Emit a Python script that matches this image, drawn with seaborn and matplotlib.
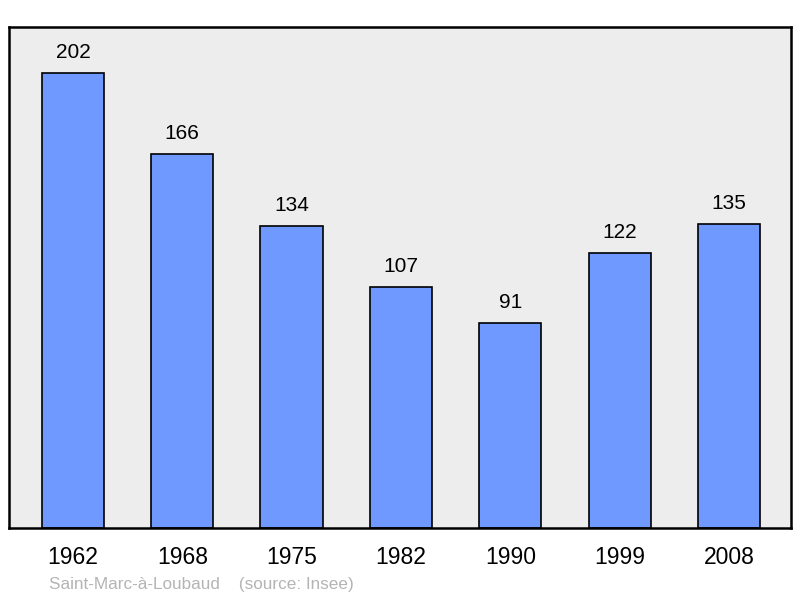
import matplotlib
matplotlib.use("Agg")
import matplotlib.pyplot as plt
import seaborn as sns
import pandas as pd

# Data
years = ["1962", "1968", "1975", "1982", "1990", "1999", "2008"]
population = [202, 166, 134, 107, 91, 122, 135]

df = pd.DataFrame({"year": years, "pop": population})

sns.set_style("white")
plt.rcParams["font.family"] = ["Liberation Sans", "DejaVu Sans"]

fig = plt.figure(figsize=(8, 5.98), dpi=100)
ax = fig.add_axes([9 / 800, 70 / 598, 782 / 800, 501 / 598])
ax.set_facecolor("#ededed")

sns.barplot(data=df, x="year", y="pop", color="#7099ff", saturation=1,
            width=0.57, edgecolor="black", linewidth=1.2, ax=ax)

for i, v in enumerate(population):
    ax.annotate(str(v), (i, v), xytext=(0, 8), textcoords="offset points",
                ha="center", va="bottom", fontsize=15, color="black")

ax.set_xlim(-0.585, 6.567)
ax.set_ylim(0, 222.4)
ax.set_xlabel("")
ax.set_ylabel("")
ax.set_yticks([])
ax.tick_params(axis="x", length=0, labelsize=16.5, pad=13, labelcolor="black")
for s in ax.spines.values():
    s.set_color("black")
    s.set_linewidth(1.8)

fig.text(49 / 800, 1 - 584 / 598, "Saint-Marc-à-Loubaud    (source: Insee)",
         fontsize=12.3, color="#b4b4b4", va="center", ha="left")

fig.savefig("out.png", dpi=100)
